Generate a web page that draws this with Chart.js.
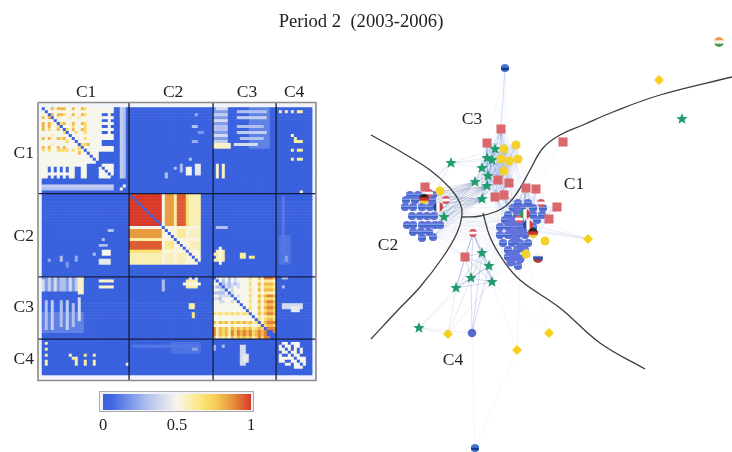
<!DOCTYPE html>
<html>
<head>
<meta charset="utf-8">
<title>Period 2 (2003-2006)</title>
<script src="https://cdn.jsdelivr.net/npm/chart.js@4/dist/chart.umd.min.js"></script>
<style>
    html, body { margin: 0; padding: 0; background: #fff; }
    #page { position: relative; width: 732px; height: 452px; overflow: hidden; }
    #page canvas { position: absolute; filter: blur(0.55px); }
    #title { position: absolute; left: 261px; width: 200px; top: 10px; text-align: center; white-space: pre;
             font: 18.6px "Liberation Serif", serif; color: #222; filter: blur(0.3px); }
    #barFrame { position: absolute; left: 99px; top: 391px; width: 153px; height: 19px; border: 1.5px solid #aaa; background: #f1f2f8; }
</style>
</head>
<body>
<div id="page">
    <div id="title">Period 2  (2003-2006)</div>
    <div id="barFrame"></div>
    <div style="position:absolute;left:0;top:70px;width:330px;height:325px"><canvas id="heatChart"></canvas></div>
    <div style="position:absolute;left:90px;top:385px;width:180px;height:50px"><canvas id="barChart"></canvas></div>
    <div style="position:absolute;left:340px;top:30px;width:392px;height:422px"><canvas id="netChart"></canvas></div>
</div>
<script>
// ---- heatmap data ----
const clusters = ['C1', 'C2', 'C3', 'C4'];
const clusterEnds = [29, 57, 78];
const xTickPos = [14.7, 43.7, 68.3, 84];
const yTickPos = [15.3, 43.5, 67.3, 84.7];
const matrixSize = 90;

// upper triangles, each row starts on the diagonal, digit = value * 10
const c1Start = 0;
const c1Rows = [
    '0558588855855875555', '055555555555555555', '08588755855875555', '0565556556555555',
    '055555555555555', '07855855875555', '0555755575555', '075855875555', '05575575555',
    '0555555555', '055575555', '05555555', '0778555', '055555', '05555', '0555', '055', '05', '0'
];
const c3Start = 57;
const c3Rows = [
    '045453545555755859998', '05353545555655656665', '0343434555755858887', '043454555655757776',
    '05455555755858887', '0455555655656665', '054555755868998', '05555655757776',
    '0555755858998', '055655757887', '05755858998', '0655757887', '055868998',
    '05656776', '0757887', '068999', '07887', '0999', '009', '00', '0'
];
const c4Start = 78;
const c4Rows = [
    '000000000000', '05505550000', '0550550000', '050505000', '05505000', '0550000',
    '055500', '05500', '0500', '000', '00', '0'
];

// [rowFrom, rowTo, colFrom, colTo, value], mirrored over the diagonal
const patches = [
    // C1 outer part
    [0, 13, 19, 20, 0.5], [0, 2, 19, 24, 0.5], [3, 4, 19, 24, 0.5], [5, 6, 19, 24, 0.5], [7, 8, 19, 24, 0.5],
    [9, 11, 19, 24, 0.5], [0, 11, 22, 23, 0.5], [13, 15, 19, 24, 0.5], [19, 24, 19, 24, 0.5],
    [0, 24, 26, 27, 0.35], [0, 24, 27, 28, 0.3], [26, 27, 27, 28, 0.5],
    // C2 block
    [29, 40, 29, 40, 1], [29, 40, 40, 41, 0.5], [29, 40, 41, 44, 0.86], [29, 40, 44, 45, 0.6],
    [29, 40, 45, 48, 0.95], [29, 40, 48, 49, 0.68], [29, 40, 49, 53, 0.58],
    [40, 53, 40, 53, 0.52], [41, 44, 45, 48, 0.62], [41, 44, 49, 53, 0.56], [45, 48, 49, 53, 0.57],
    // C1 x C2
    [17, 18, 49, 50, 0.3], [19, 22, 46, 47, 0.3], [19, 23, 51, 53, 0.45], [20, 23, 48, 50, 0.5],
    [22, 24, 41, 42, 0.3], [20, 21, 44, 45, 0.3], [2, 3, 51, 52, 0.25], [6, 7, 50, 52, 0.3],
    [8, 9, 52, 54, 0.2], [11, 12, 50, 52, 0.25],
    // C1 x C3
    [0, 14, 69, 76, 0.13], [0, 14, 57, 62, 0.2],
    [0, 1, 58, 62, 0.4], [2, 3, 57, 62, 0.35], [4, 5, 57, 62, 0.4], [6, 8, 57, 62, 0.3], [9, 10, 57, 62, 0.4],
    [11, 12, 57, 62, 0.35], [12, 14, 57, 63, 0.55], [12, 13, 64, 72, 0.4], [1, 2, 65, 75, 0.3], [3, 4, 65, 75, 0.35],
    [6, 7, 65, 74, 0.3], [8, 9, 65, 75, 0.35], [10, 11, 66, 74, 0.3], [19, 24, 58, 59, 0.55], [19, 24, 60, 61, 0.55],
    // C1 x C4
    [1, 2, 79, 80, 0.6], [1, 2, 81, 82, 0.6], [1, 2, 83, 84, 0.6], [1, 2, 85, 87, 0.6], [9, 10, 83, 84, 0.55],
    [10, 12, 84, 85, 0.6], [11, 12, 85, 87, 0.6], [14, 15, 83, 84, 0.6], [14, 15, 85, 87, 0.6], [17, 18, 83, 84, 0.6],
    [17, 18, 85, 87, 0.6], [28, 29, 86, 87, 0.5],
    // C2 x C3
    [40, 41, 58, 62, 0.3], [48, 52, 58, 59, 0.6], [48, 52, 60, 61, 0.6], [49, 51, 66, 68, 0.6], [50, 51, 69, 71, 0.65],
    [49, 50, 57, 58, 0.5], [51, 52, 57, 58, 0.5], [47, 53, 59, 60, 0.5],
    // C2 x C4
    [43, 53, 79, 83, 0.09], [50, 52, 80, 82, 0.22], [30, 53, 80, 81, 0.1],
    // C3 x C4
    [57, 58, 80, 82, 0.3], [60, 61, 80, 81, 0.3], [66, 68, 80, 87, 0.4], [67, 69, 83, 86, 0.45]
];
const diagonalRanges = [[0, 24], [29, 53], [57, 78]];

// colour scale, [value, colour]
const colourStops = [
    [0, [58, 98, 222]], [0.06, [64, 104, 224]], [0.3, [176, 192, 240]], [0.5, [247, 246, 236]],
    [0.65, [252, 232, 130]], [0.75, [248, 208, 90]], [0.87, [232, 150, 62]], [1, [216, 58, 42]]
];
const barRange = [0, 1];
const barTicks = [0, 0.5, 1];

// ---- network data (positions as laid out in the figure) ----
const squareNodes = [[501, 129], [487, 143], [498, 180], [509, 183], [495, 197], [504, 195], [563, 142], [526, 188], [536, 189], [557, 207], [549, 219], [465, 257], [425, 187]];
const yellowNodes = [[516, 145], [504, 149], [501, 159], [509, 161], [518, 159], [504, 171], [440, 191], [545, 241], [526, 254]];
const diamondNodes = [[588, 239], [659, 80], [549, 333], [517, 350], [448, 334]];
const starNodes = [[451, 163], [495, 149], [487, 158], [492, 160], [482, 168], [488, 176], [475, 182], [487, 186], [482, 199], [444, 217], [482, 253], [489, 266], [471, 278], [492, 282], [456, 288], [682, 119], [419, 328]];
const c2Nodes = [[410, 195], [418, 195], [433, 195], [406, 200], [415, 200], [432, 200], [405, 207], [413, 207], [422, 207], [430, 207], [412, 216], [420, 216], [427, 216], [434, 216], [407, 225], [413, 225], [422, 225], [428, 225], [435, 225], [440, 225], [413, 232], [421, 232], [429, 232], [422, 238], [433, 237]];
const c1Nodes = [[518, 203], [528, 203], [513, 208], [522, 208], [533, 208], [543, 208], [508, 215], [517, 215], [533, 215], [542, 215], [505, 220], [513, 220], [537, 220], [500, 227], [508, 227], [517, 227], [525, 227], [533, 227], [500, 235], [508, 235], [517, 235], [525, 235], [503, 243], [512, 243], [520, 243], [528, 243], [508, 250], [517, 250], [525, 250], [508, 257], [517, 257], [518, 266]];
const c1Solid = [[517, 210], [512, 222], [520, 222], [514, 231], [522, 232], [515, 239], [521, 247], [513, 254], [520, 259], [511, 262]];
const soloBlue = [[472, 333]];
const blueFlags = [[505, 68], [475, 448]];
const germanFlags = [[533, 233], [424, 199]];
const italyFlags = [[525, 214]];
const franceFlags = [[528, 225], [438, 207]];
const russiaFlags = [[538, 258]];
const redWhiteFlags = [[473, 233], [541, 203], [519, 219], [446, 200], [429, 193]];
const indiaFlags = [[719, 42]];

const curveA = [[371, 135], [403, 153], [430, 170], [450, 188], [460, 203], [462, 215], [457, 233], [443, 257], [420, 287], [398, 310], [371, 339]];
const curveB = [[462, 217], [480, 216], [503, 208], [517, 193], [530, 170], [543, 148], [560, 135], [583, 125], [613, 112], [660, 95], [732, 77]];
const curveC = [[483, 213], [490, 237], [503, 260], [520, 280], [560, 308], [600, 343], [645, 369]];

const netLabels = [['C3', 472, 119], ['C1', 574, 184], ['C2', 388, 245], ['C4', 453, 360]];

const c3Group = squareNodes.slice(0, 6).concat(yellowNodes.slice(0, 6), starNodes.slice(1, 9));
const bottomStars = starNodes.slice(10, 15).concat([[465, 257], [473, 233]]);
const c3Hubs = [[482, 199], [487, 186], [475, 182], [495, 197], [504, 195], [488, 176]];
const c1Hubs = [[526, 188], [504, 195], [495, 197]];

// ---- helpers ----
function colourFor(v) {
    for (let i = 1; i < colourStops.length; i++) {
        if (v <= colourStops[i][0]) {
            const a = colourStops[i - 1], b = colourStops[i];
            const t = (v - a[0]) / (b[0] - a[0]);
            const c = a[1].map((x, k) => Math.round(x + (b[1][k] - x) * t));
            return `rgb(${c[0]},${c[1]},${c[2]})`;
        }
    }
    return 'rgb(216,58,42)';
}

function flagIcon(stripes, r) {
    const c = document.createElement('canvas');
    c.width = c.height = r * 2;
    const g = c.getContext('2d');
    g.beginPath();
    g.arc(r, r, r, 0, Math.PI * 2);
    g.clip();
    stripes.forEach((s, i) => {
        g.fillStyle = s;
        if (stripes.vertical) g.fillRect(i * 2 * r / stripes.length, 0, 2 * r / stripes.length + 1, 2 * r);
        else g.fillRect(0, i * 2 * r / stripes.length, 2 * r, 2 * r / stripes.length + 1);
    });
    return c;
}

function vertical(list) { list.vertical = true; return list; }

function toPts(list) { return list.map(p => ({ x: p[0], y: p[1] })); }

function starIcon() {
    const c = document.createElement('canvas');
    c.width = c.height = 12;
    const g = c.getContext('2d');
    g.fillStyle = '#1f9c6c';
    g.beginPath();
    for (let i = 0; i < 10; i++) {
        const r = i % 2 == 0 ? 6 : 2.6;
        const a = -Math.PI / 2 + i * Math.PI / 5;
        g.lineTo(6 + r * Math.cos(a), 6 + r * Math.sin(a));
    }
    g.closePath();
    g.fill();
    return c;
}

// ---- heatmap ----
const matrix = [];
for (let r = 0; r < matrixSize; r++) matrix.push(new Array(matrixSize).fill(0));

function setCell(r, c, v) { matrix[r][c] = v; matrix[c][r] = v; }

patches.forEach(p => {
    for (let r = p[0]; r < p[1]; r++) for (let c = p[2]; c < p[3]; c++) setCell(r, c, p[4]);
});
[[c1Start, c1Rows], [c3Start, c3Rows], [c4Start, c4Rows]].forEach(([start, rows]) => {
    rows.forEach((row, i) => {
        for (let j = 0; j < row.length; j++) setCell(start + i, start + i + j, Number(row[j]) / 10);
    });
});
diagonalRanges.forEach(d => {
    for (let i = d[0]; i < d[1]; i++) matrix[i][i] = 0;
});

const cellPts = [], cellColours = [];
for (let r = 0; r < matrixSize; r++) {
    for (let c = 0; c < matrixSize; c++) {
        cellPts.push({ x: c + 0.5, y: r + 0.5 });
        cellColours.push(colourFor(matrix[r][c]));
    }
}

const xMin = -1.34, xMax = 91.3, yMin = -1.7, yMax = 91.9;
const lineColour = '#141c3c';
const heatSets = [{
    type: 'scatter',
    data: cellPts,
    pointStyle: 'rect',
    pointRadius: 2.5,
    pointBorderWidth: 0,
    backgroundColor: cellColours,
    order: 2
}];
clusterEnds.forEach(b => {
    heatSets.push({ data: [{ x: b, y: yMin }, { x: b, y: yMax }], showLine: true, pointRadius: 0, borderColor: lineColour, borderWidth: 1.3, order: 1 });
    heatSets.push({ data: [{ x: xMin, y: b }, { x: xMax, y: b }], showLine: true, pointRadius: 0, borderColor: lineColour, borderWidth: 1.3, order: 1 });
});
heatSets.push({
    data: [{ x: xMin, y: yMin }, { x: xMax, y: yMin }, { x: xMax, y: yMax }, { x: xMin, y: yMax }, { x: xMin, y: yMin }],
    showLine: true, pointRadius: 0, borderColor: '#8c8c8c', borderWidth: 1.6, clip: false, order: 0
});

function fixedTicks(list) {
    return scale => { scale.ticks = list.map(v => ({ value: v })); };
}

const serif = { family: '"Liberation Serif", serif', size: 17.5 };

new Chart(document.getElementById('heatChart'), {
    type: 'scatter',
    data: { datasets: heatSets },
    plugins: [{
        id: 'marginFill',
        beforeDatasetsDraw(chart) {
            const a = chart.chartArea;
            chart.ctx.fillStyle = '#f2f4fb';
            chart.ctx.fillRect(a.left, a.top, a.width, a.height);
        }
    }],
    options: {
        responsive: true,
        maintainAspectRatio: false,
        animation: false,
        layout: { autoPadding: false, padding: { right: 14, bottom: 13.5 } },
        plugins: { legend: { display: false }, tooltip: { enabled: false } },
        scales: {
            x: {
                type: 'linear', position: 'top', min: xMin, max: xMax,
                grid: { display: false, drawTicks: false }, border: { display: false },
                afterBuildTicks: fixedTicks(xTickPos),
                afterFit: s => { s.height = 32.5; },
                ticks: { padding: 0, color: '#222', font: serif, autoSkip: false, maxRotation: 0, callback: (v, i) => clusters[i] }
            },
            y: {
                type: 'linear', reverse: true, min: yMin, max: yMax,
                grid: { display: false, drawTicks: false }, border: { display: false },
                afterBuildTicks: fixedTicks(yTickPos),
                afterFit: s => { s.width = 38; },
                ticks: { padding: 4, color: '#222', font: serif, autoSkip: false, callback: (v, i) => clusters[i] }
            }
        }
    }
});

// ---- colour bar ----
new Chart(document.getElementById('barChart'), {
    type: 'bar',
    data: {
        labels: [''],
        datasets: [{
            data: [barRange],
            barPercentage: 1,
            categoryPercentage: 1,
            backgroundColor: ctx => {
                const a = ctx.chart.chartArea;
                if (!a) return '#3a62de';
                const g = ctx.chart.ctx.createLinearGradient(a.left, 0, a.right, 0);
                colourStops.forEach(s => g.addColorStop(s[0], `rgb(${s[1].join(',')})`));
                return g;
            }
        }]
    },
    options: {
        indexAxis: 'y',
        responsive: true,
        maintainAspectRatio: false,
        animation: false,
        layout: { autoPadding: false, padding: { left: 13, right: 19, top: 9 } },
        plugins: { legend: { display: false }, tooltip: { enabled: false } },
        scales: {
            y: { display: false },
            x: {
                min: barRange[0], max: barRange[1],
                grid: { display: false, drawTicks: false }, border: { display: false },
                afterBuildTicks: fixedTicks(barTicks),
                afterFit: s => { s.height = 25; },
                ticks: { padding: 6, color: '#222', font: { family: serif.family, size: 16.5 }, autoSkip: false, maxRotation: 0, callback: (v, i) => String(barTicks[i]) }
            }
        }
    }
});

// ---- network ----
const netSets = [];

function addEdge(a, b, colour) {
    netSets.push({
        data: [{ x: a[0], y: a[1] }, { x: b[0], y: b[1] }],
        showLine: true, pointRadius: 0, borderColor: colour, borderWidth: 0.8, order: 5
    });
}

function linkWithin(group, colour) {
    group.forEach((a, i) => group.slice(i + 1).forEach(b => addEdge(a, b, colour)));
}

function linkBetween(g1, g2, colour) {
    g1.forEach(a => g2.forEach(b => addEdge(a, b, colour)));
}

linkWithin(c3Group, 'rgba(70,105,200,0.14)');
linkWithin(c2Nodes.slice(0, 12), 'rgba(90,120,200,0.05)');
linkWithin(c1Nodes.slice(0, 20), 'rgba(90,120,200,0.05)');
linkBetween(c2Nodes.filter((p, i) => i % 2 == 0), c3Hubs.slice(0, 3), 'rgba(60,85,150,0.2)');
linkBetween(c2Nodes.filter((p, i) => i % 3 == 0), c1Nodes.filter((p, i) => i % 5 == 0), 'rgba(110,140,210,0.05)');
linkBetween(c1Nodes.filter((p, i) => i % 3 == 0), c1Hubs, 'rgba(90,120,190,0.16)');
linkBetween(c1Nodes.filter((p, i) => i % 4 == 0), squareNodes.slice(7, 11), 'rgba(120,150,210,0.2)');
linkBetween(c1Nodes.filter((p, i) => i % 4 == 0), c3Group.slice(0, 8), 'rgba(120,150,210,0.06)');
linkWithin(bottomStars, 'rgba(70,100,190,0.3)');
linkBetween(bottomStars.slice(0, 4), c1Nodes.filter((p, i) => i % 6 == 0), 'rgba(120,150,210,0.08)');
linkBetween([[501, 129]], [[505, 68]], 'rgba(120,150,230,0.25)');
linkBetween([[505, 68]], c3Group.slice(0, 6), 'rgba(130,160,230,0.1)');
linkBetween([[451, 163]], c2Nodes.slice(0, 6), 'rgba(120,150,200,0.15)');
linkBetween([[451, 163]], c3Group.slice(12, 16), 'rgba(120,150,200,0.2)');
linkBetween([[588, 239]], c1Nodes.slice(10, 16), 'rgba(130,150,200,0.14)');
linkBetween([[465, 257]], c2Nodes.slice(14, 18), 'rgba(130,150,200,0.12)');
linkBetween([[472, 333]], [[482, 253], [471, 278], [489, 266]], 'rgba(90,110,200,0.3)');
linkBetween([[419, 328]], [[471, 278], [456, 288], [448, 334], [472, 333]], 'rgba(110,130,190,0.18)');
linkBetween([[448, 334]], [[471, 278], [456, 288], [492, 282]], 'rgba(110,120,200,0.2)');
linkBetween([[549, 333]], [[492, 282], [525, 250]], 'rgba(130,150,210,0.1)');
linkBetween([[517, 350]], [[520, 266], [492, 282]], 'rgba(130,150,210,0.12)');
linkBetween([[475, 448]], [[472, 333], [517, 350]], 'rgba(130,150,210,0.1)');
linkBetween([[563, 142]], [[526, 188], [536, 189]], 'rgba(130,150,210,0.1)');

[curveA, curveB, curveC].forEach(c => netSets.push({
    data: toPts(c), showLine: true, tension: 0.4, pointRadius: 0, borderColor: '#3c3c3c', borderWidth: 1.3, order: 4
}));

function addNodes(list, style, radius, colour, order) {
    netSets.push({
        data: toPts(list), pointStyle: style, pointRadius: radius, pointBorderWidth: 0,
        backgroundColor: colour, order: order
    });
}

const bandIcon = flagIcon(['#5f70d8', '#5f70d8', '#7d98e4', '#3a68c4', '#5f70d8', '#5f70d8'], 4);
addNodes(c1Solid, 'circle', 4.5, '#6272dc', 3);
addNodes(c2Nodes, bandIcon, 4, '#5f70d8', 3);
addNodes(c1Nodes, bandIcon, 4, '#5f70d8', 3);
addNodes(soloBlue, 'circle', 4.3, '#5a68cc', 2);
addNodes(squareNodes, 'rect', 6.4, '#d9676c', 2);
addNodes(yellowNodes, 'circle', 4.5, '#f4d12c', 2);
addNodes(diamondNodes, 'rectRot', 5, '#f6cf1a', 2);
addNodes(starNodes, starIcon(), 6, '#1f9c6c', 2);
addNodes(blueFlags, flagIcon(['#4f7ad0', '#3d6ec8', '#123a88', '#3f6cc0'], 4), 4, '#3d6ec8', 1);
addNodes(germanFlags, flagIcon(['#222', '#c8342c', '#f0c820'], 5), 5, '#222', 1);
addNodes(italyFlags, flagIcon(vertical(['#2f9a52', '#fafafa', '#d0403c']), 5), 5, '#fff', 1);
addNodes(franceFlags, flagIcon(vertical(['#2a4aa0', '#fafafa', '#d0403c']), 5), 5, '#fff', 1);
addNodes(russiaFlags, flagIcon(['#f4f4f4', '#3a55a8', '#b03a38'], 5), 5, '#fff', 1);
addNodes(redWhiteFlags, flagIcon(['#d85a60', '#fbfbfb', '#d85a60'], 4), 4, '#fff', 1);
addNodes(indiaFlags, flagIcon(['#e8a048', '#f6f6ea', '#4f9a5a'], 5), 5, '#fff', 1);

new Chart(document.getElementById('netChart'), {
    type: 'scatter',
    data: { datasets: netSets },
    plugins: [{
        id: 'clusterLabels',
        afterDraw(chart) {
            const c = chart.ctx;
            c.save();
            c.fillStyle = '#222';
            c.font = '17.5px "Liberation Serif", serif';
            c.textAlign = 'center';
            c.textBaseline = 'middle';
            netLabels.forEach(l => c.fillText(l[0], chart.scales.x.getPixelForValue(l[1]), chart.scales.y.getPixelForValue(l[2])));
            c.restore();
        }
    }],
    options: {
        responsive: true,
        maintainAspectRatio: false,
        animation: false,
        layout: { autoPadding: false, padding: 0 },
        plugins: { legend: { display: false }, tooltip: { enabled: false } },
        scales: {
            x: { type: 'linear', display: false, min: 340, max: 732 },
            y: { type: 'linear', display: false, reverse: true, min: 30, max: 452 }
        }
    }
});
</script>
</body>
</html>
